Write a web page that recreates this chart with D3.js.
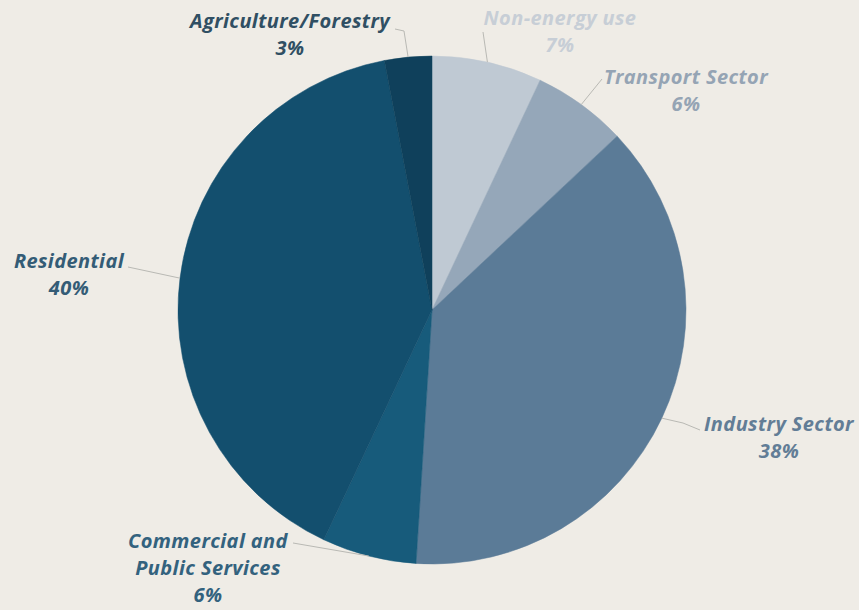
<!DOCTYPE html>
<html lang="en">
<head>
  <meta charset="UTF-8">
  <title>Energy consumption by sector</title>
  <script src="https://d3js.org/d3.v7.min.js"></script>
  <style>
    body { margin: 0; background: #efece6; }
    svg { display: block; }
    .label { font-family: "Open Sans", sans-serif; font-weight: 700; font-style: italic; font-size: 20px; letter-spacing: 0.4px; }
    .leader { fill: none; stroke: #b9b9b4; stroke-width: 1; }
  </style>
</head>
<body>
  <svg width="859" height="610"></svg>

  <script>
    // slices go clockwise from 12 o'clock
    let sectors = ["Non-energy use", "Transport Sector", "Industry Sector", "Commercial and Public Services", "Residential", "Agriculture/Forestry"];
    let shares = [7, 6, 38, 6, 40, 3];
    let labelLines = [["Non-energy use"], ["Transport Sector"], ["Industry Sector"], ["Commercial and", "Public Services"], ["Residential"], ["Agriculture/Forestry"]];

    let sliceColors = ["#bfc9d3", "#95a7b9", "#5b7b97", "#175b7b", "#134f6e", "#0f405b"];
    let textColors = ["#c7ced6", "#95a4b4", "#627d96", "#33627e", "#345c76", "#304f63"];

    // label placement (text centre x, first baseline y) and where the leader line meets the text
    let labelPos = [
      { x: 560, y: 25, lx: 483, ly: 32, elbow: null },
      { x: 686, y: 84, lx: 602, ly: 79, elbow: null },
      { x: 779, y: 431, lx: 700, ly: 430, elbow: [683, 423] },
      { x: 208, y: 548, lx: 293, ly: 543, elbow: null },
      { x: 69, y: 268, lx: 128, ly: 267, elbow: null },
      { x: 290, y: 28, lx: 395, ly: 29, elbow: [404, 31] }
    ];

    let svg = d3.select("svg");
    let cx = 432, cy = 310, radius = 254;

    let rows = sectors.map((s, i) => ({ name: s, value: shares[i], i: i }));

    let pie = d3.pie().sort(null).value(d => d.value);
    let arc = d3.arc().innerRadius(0).outerRadius(radius);

    let g = svg.append("g").attr("transform", `translate(${cx},${cy})`);
    let arcs = pie(rows);

    g.selectAll("path.slice")
      .data(arcs)
      .enter().append("path")
      .attr("class", "slice")
      .attr("d", arc)
      .attr("fill", d => sliceColors[d.data.i])
      .attr("stroke", d => sliceColors[d.data.i])
      .attr("stroke-width", 0.5);

    // leader lines from slice edge (mid angle) to the label
    arcs.forEach(d => {
      let mid = (d.startAngle + d.endAngle) / 2;
      let p0 = [cx + radius * Math.sin(mid), cy - radius * Math.cos(mid)];
      let lp = labelPos[d.data.i];
      let pts = [p0];
      if (lp.elbow) pts.push(lp.elbow);
      pts.push([lp.lx, lp.ly]);
      svg.append("path")
        .attr("class", "leader")
        .attr("d", d3.line()(pts));
    });

    arcs.forEach(d => {
      let lp = labelPos[d.data.i];
      let t = svg.append("text")
        .attr("class", "label")
        .attr("text-anchor", "middle")
        .attr("fill", textColors[d.data.i]);
      let lines = labelLines[d.data.i].concat([d.data.value + "%"]);
      lines.forEach((ln, k) => {
        t.append("tspan")
          .attr("x", lp.x)
          .attr("y", lp.y + k * 27)
          .text(ln);
      });
    });
  </script>
</body>
</html>
